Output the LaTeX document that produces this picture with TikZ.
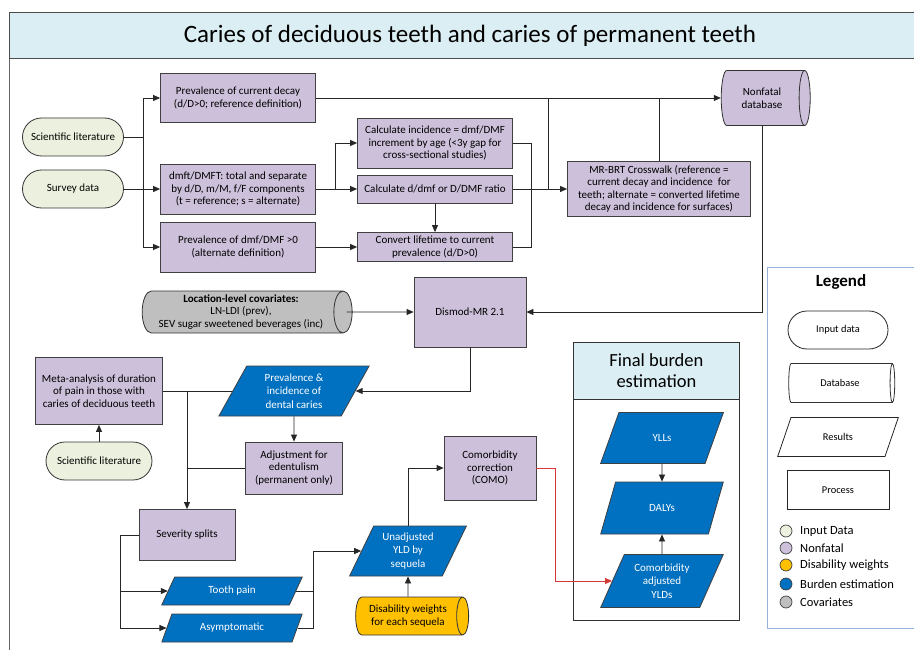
\documentclass[tikz,border=0pt]{standalone}
\usepackage{fontspec}
\setmainfont{Carlito}
\usetikzlibrary{arrows.meta,positioning,shapes.geometric,shapes.misc}
\definecolor{cinput}{RGB}{235,241,222}
\definecolor{cnonfatal}{RGB}{204,192,218}
\definecolor{cweights}{RGB}{255,192,0}
\definecolor{cburden}{RGB}{0,112,192}
\definecolor{ccovar}{RGB}{191,191,191}
\definecolor{chead}{RGB}{219,238,243}
\definecolor{clegend}{RGB}{149,179,215}
\definecolor{cred}{RGB}{214,56,56}
\tikzset{
  base/.style={align=center, inner sep=1pt, font=\fontsize{11}{12.5}\selectfont},
  inputbox/.style={base, rounded rectangle, draw=black!80, line width=0.8pt, fill=cinput},
  procbox/.style={base, rectangle, draw=black!75, line width=0.8pt, fill=cnonfatal},
  resultbox/.style={base, trapezium, trapezium left angle=64, trapezium right angle=116,
    trapezium stretches=true, draw=black!75, line width=0.8pt, fill=cburden, text=white,
    font=\fontsize{11}{13.5}\selectfont},
  % cylinder: minimum height = length, minimum width = diameter
  dbase/.style={base, cylinder, aspect=0.5, draw=black!80, line width=0.8pt},
  link/.style={draw=black!85, line width=0.8pt},
  arr/.style={link, -{Triangle[length=7pt,width=6pt]}},
  legdot/.style={circle, draw=black!75, line width=0.7pt, minimum size=12pt, inner sep=0pt},
  leglabel/.style={anchor=west, inner sep=0pt, font=\fontsize{12.5}{14}\selectfont},
}
\begin{document}
\begin{tikzpicture}[x=1pt, y=1pt]
  \useasboundingbox (0,0) rectangle (914,-650);

  % frame and title
  \node[draw=black!70, line width=0.8pt, fill=chead, minimum width=921pt, minimum height=46pt,
    anchor=north west, font=\fontsize{25}{28}\selectfont] (title) at (9,-12)
    {Caries of deciduous teeth and caries of permanent teeth};
  \draw[black!60, line width=1pt] (title.south west) -- (9,-650);

  % inputs
  \node[inputbox, minimum width=103pt, minimum height=38pt] (scilit) at (73,-137) {Scientific literature};
  \node[inputbox, minimum width=103pt, minimum height=38pt] (survey) at (73,-189) {Survey data};

  % nonfatal processing
  \node[procbox, minimum width=155pt, minimum height=49pt] (prevcur) at (238,-98) {Prevalence of current decay\\(d/D>0; reference definition)};
  \node[procbox, minimum width=155pt, minimum height=50pt] (dmft) at (238,-189) {dmft/DMFT: total and separate\\by d/D, m/M, f/F components\\(t = reference; s = alternate)};
  \node[procbox, minimum width=155pt, minimum height=50pt] (prevdmf) at (238,-247) {Prevalence of dmf/DMF >0\\(alternate definition)};
  \node[procbox, minimum width=155pt, minimum height=50pt] (calcinc) at (435,-143) {Calculate incidence = dmf/DMF\\increment by age (<3y gap for\\cross-sectional studies)};
  \node[procbox, minimum width=155pt, minimum height=28pt] (ratio) at (435,-189) {Calculate d/dmf or D/DMF ratio};
  \node[procbox, minimum width=155pt, minimum height=29pt] (convert) at (435,-247) {Convert lifetime to current\\prevalence (d/D>0)};
  \node[procbox, minimum width=183pt, minimum height=55pt] (mrbrt) at (659,-189) {MR-BRT Crosswalk (reference =\\current decay and incidence\ \ for\\teeth; alternate = converted lifetime\\decay and incidence for surfaces)};
  \node[dbase, fill=cnonfatal, minimum height=89pt, minimum width=55pt] (nfdb) at (762,-98) {Nonfatal\\database};

  % modelling
  \node[dbase, fill=ccovar, minimum height=210pt, minimum width=42pt] (covar) at (241,-312) {\textbf{Location-level covariates:}\\LN-LDI (prev),\\SEV sugar sweetened beverages (inc)};
  \node[procbox, minimum width=112pt, minimum height=70pt] (dismod) at (470,-312) {Dismod-MR 2.1};
  \node[resultbox, minimum width=151pt, minimum height=50pt] (previnc) at (294,-391) {Prevalence \&\\incidence of\\dental caries};
  \node[procbox, minimum width=127pt, minimum height=67pt] (meta) at (99,-391) {Meta-analysis of duration\\of pain in those with\\caries of deciduous teeth};
  \node[inputbox, minimum width=108pt, minimum height=38pt] (scilit2) at (99,-461) {Scientific literature};
  \node[procbox, minimum width=97pt, minimum height=52pt] (adjust) at (294,-468) {Adjustment for\\edentulism\\(permanent only)};
  \node[procbox, minimum width=96pt, minimum height=51pt] (severity) at (187,-535) {Severity splits};
  \node[resultbox, minimum width=141pt, minimum height=28pt] (toothpain) at (232,-591) {Tooth pain};
  \node[resultbox, minimum width=141pt, minimum height=28pt] (asympt) at (232,-628) {Asymptomatic};
  \node[resultbox, minimum width=117pt, minimum height=50pt] (unadj) at (408,-551) {Unadjusted\\YLD by\\sequela};
  \node[dbase, fill=cweights, minimum height=113pt, minimum width=38pt] (dw) at (408,-616) {Disability weights\\for each sequela};
  \node[procbox, minimum width=92pt, minimum height=64pt] (como) at (490,-468) {Comorbidity\\correction\\(COMO)};

  % final burden estimation
  \node[draw=black!80, line width=0.8pt, minimum width=166pt, minimum height=278pt, anchor=north west] (final) at (573,-342) {};
  \node[draw=black!80, line width=0.8pt, fill=chead, minimum width=166pt, minimum height=57pt, anchor=north west,
    align=center, font=\fontsize{18.5}{21}\selectfont] (finalhead) at (573,-342) {Final burden\\estimation};
  \node[resultbox, minimum width=123pt, minimum height=51pt] (ylls) at (662,-438) {YLLs};
  \node[resultbox, minimum width=123pt, minimum height=52pt] (dalys) at (662,-508) {DALYs};
  \node[resultbox, minimum width=123pt, minimum height=53pt] (cyld) at (662,-581) {Comorbidity\\adjusted\\YLDs};

  % connectors
  \coordinate (trunk) at (143,-137);
  \coordinate (split) at (335,-189);
  \coordinate (bus) at (531,-189);
  \coordinate (xj) at (548,-189);
  \coordinate (tr2) at (187,-391);
  \coordinate (sv) at (120,-535);
  \coordinate (ym) at (313,-551);
  \coordinate (rj) at (555,-468);

  \draw[link] (scilit.east) -- (trunk);
  \draw[arr] (trunk) |- (prevcur.west);
  \draw[arr] (trunk) |- (prevdmf.west);
  \draw[arr] (survey.east) -- (dmft.west);
  \draw[link] (dmft.east) -- (split);
  \draw[arr] (split) |- (calcinc.west);
  \draw[arr] (split) -- (ratio.west);
  \draw[arr] (prevdmf.east) -- (convert.west);
  \draw[arr] (ratio.south) -- (convert.north);
  \draw[link] (calcinc.east) -| (bus);
  \draw[link] (convert.east) -| (bus);
  \draw[link] (ratio.east) -- (bus);
  \draw[arr] (bus) -- (mrbrt.west);
  \draw[arr] (prevcur.east) -- (nfdb.west);
  \draw[link] (xj) -- (xj |- prevcur.east);
  \draw[link] (mrbrt.north) -- (mrbrt.north |- prevcur.east);
  \draw[arr] (nfdb.south) |- (dismod.east);
  \draw[arr] ([xshift=-6pt]covar.east) -- (dismod.west);
  \draw[arr] (dismod.south) |- (previnc.right side);
  \draw[link] (meta.east) -- (previnc.left side);
  \draw[arr] (tr2) -- (severity.north);
  \draw[link] (adjust.west) -- (adjust.west -| tr2);
  \draw[arr] (previnc.south) -- (adjust.north);
  \draw[arr] (scilit2.north) -- (meta.south);
  \draw[link] (severity.west) -- (sv);
  \draw[arr] (sv) |- (toothpain.left side);
  \draw[arr] (sv) |- (asympt.left side);
  \draw[link] (toothpain.right side) -| (ym);
  \draw[link] (asympt.right side) -| (ym);
  \draw[arr] (ym) -- (unadj.left side);
  \draw[arr] (dw.north) -- (unadj.south);
  \draw[arr] (unadj.north) |- (como.west);
  \draw[arr, draw=cred] (como.east) -- (rj) |- (cyld.left side);
  \draw[arr] (ylls.south) -- (dalys.north);
  \draw[arr] (cyld.north) -- (dalys.south);

  % legend
  \draw[clegend, line width=1pt] (930,-267) -- (767,-267) -- (767,-628) -- (930,-628);
  \node[font=\fontsize{17}{19}\selectfont\bfseries] (legtitle) at (841,-282) {Legend};
  \node[base, rounded rectangle, draw=black!85, line width=0.8pt, minimum width=102pt, minimum height=38pt,
    font=\fontsize{10.4}{12}\selectfont] (leginput) at (838,-330) {Input data};
  \node[dbase, minimum height=106pt, minimum width=39pt, font=\fontsize{10.4}{12}\selectfont] (legdb) at (840,-383) {Database};
  \node[base, trapezium, trapezium left angle=64, trapezium right angle=116, trapezium stretches=true,
    draw=black!85, line width=0.8pt, minimum width=121pt, minimum height=39pt, font=\fontsize{10.4}{12}\selectfont] (legres) at (838,-437) {Results};
  \node[base, draw=black!85, line width=0.8pt, minimum width=102pt, minimum height=39pt,
    font=\fontsize{10.4}{12}\selectfont] (legproc) at (838,-490) {Process};
  \node[legdot, fill=cinput] (dot1) at (786,-531) {};
  \node[leglabel] at (800,-531) {Input Data};
  \node[legdot, fill=cnonfatal] (dot2) at (786,-548) {};
  \node[leglabel] at (800,-548) {Nonfatal};
  \node[legdot, fill=cweights] (dot3) at (786,-565) {};
  \node[leglabel] at (800,-565) {Disability weights};
  \node[legdot, fill=cburden] (dot4) at (786,-584) {};
  \node[leglabel] at (800,-584) {Burden estimation};
  \node[legdot, fill=ccovar] (dot5) at (786,-602) {};
  \node[leglabel] at (800,-602) {Covariates};
\end{tikzpicture}
\end{document}
